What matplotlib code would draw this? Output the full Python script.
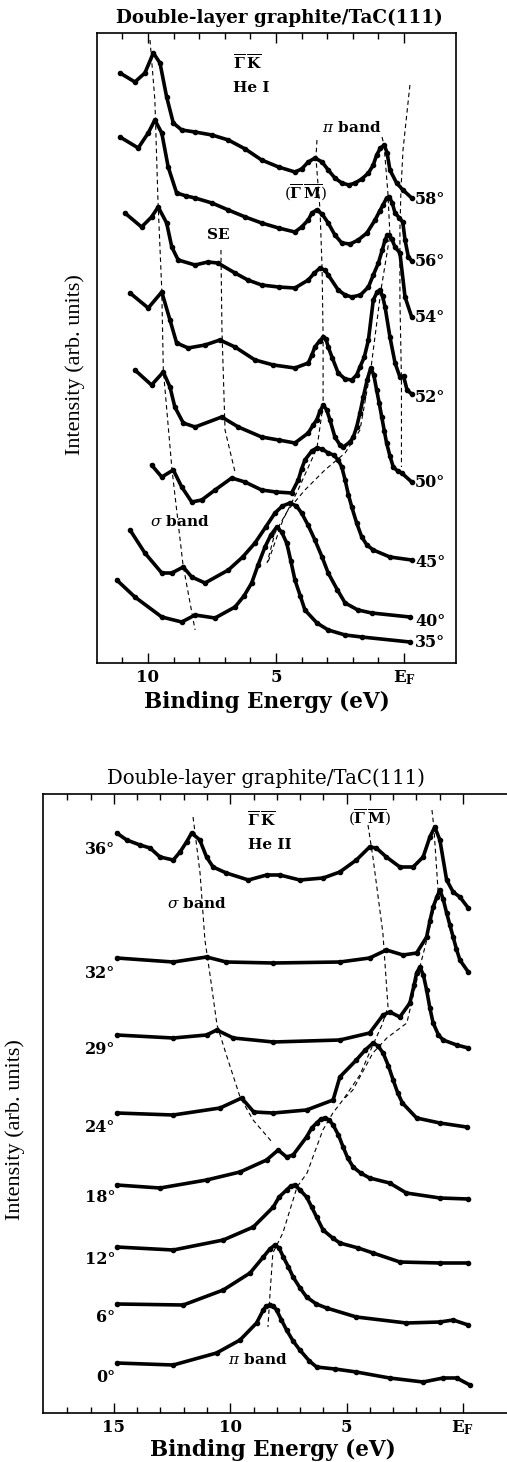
import matplotlib
matplotlib.use("Agg")
import matplotlib.pyplot as plt

plt.rcParams["font.family"] = "DejaVu Serif"
plt.rcParams["mathtext.fontset"] = "dejavuserif"

W, H = 507, 1462

# ---- He I spectra (top panel): binding energy (eV), stacked intensity (arb. units)
E58 = [11.09, 10.51, 10.12, 9.79, 9.53, 9.27, 9.01, 8.68, 8.16, 7.5, 6.86, 6.2, 5.56, 4.9,
       4.26, 4.0, 3.74, 3.48, 3.2, 2.96, 2.7, 2.43, 2.15, 1.91, 1.65, 1.39, 1.2, 1.07,
       0.92, 0.77, 0.66, 0.55, 0.29, 0.04, -0.30]
I58 = [590, 581, 590, 610, 600, 566, 540, 533, 531, 528, 523, 514, 503, 496,
       491, 494, 501, 505, 501, 493, 485, 480, 478, 480, 484, 490, 498, 508,
       515, 518, 510, 493, 480, 473, 465]
E56 = [11.09, 10.38, 9.99, 9.73, 9.46, 9.21, 8.88, 8.5, 8.16, 7.5, 6.86, 6.2, 5.56, 4.9,
       4.26, 4.0, 3.74, 3.6, 3.41, 3.2, 2.96, 2.7, 2.43, 2.1, 1.79, 1.45, 1.13, 0.95,
       0.82, 0.68, 0.57, 0.46, 0.35, 0.18, 0.05, -0.04, -0.17, -0.30]
I56 = [526, 515, 530, 543, 530, 496, 470, 467, 465, 460, 453, 446, 440, 435,
       431, 436, 443, 450, 453, 449, 440, 428, 420, 419, 423, 430, 443, 452,
       458, 465, 466, 460, 450, 445, 441, 423, 406, 402]
E54 = [10.90, 10.25, 9.86, 9.60, 9.27, 9.07, 8.82, 8.16, 7.66, 7.27, 6.60, 6.1, 5.56, 4.9,
       4.26, 3.74, 3.5, 3.28, 3.1, 2.96, 2.57, 2.3, 2.04, 1.7, 1.39, 1.2, 1.00, 0.85,
       0.74, 0.65, 0.57, 0.48, 0.35, 0.16, -0.04, -0.30]
I54 = [450, 436, 446, 456, 440, 416, 403, 398, 401, 400, 390, 383, 378, 376,
       375, 383, 390, 395, 393, 388, 373, 368, 366, 368, 376, 388, 400, 413,
       423, 428, 428, 424, 416, 410, 366, 346]
E52 = [10.70, 9.99, 9.46, 9.14, 8.88, 8.43, 7.77, 7.19, 6.60, 5.82, 5.1, 4.26, 3.74, 3.6,
       3.48, 3.3, 3.15, 3.05, 2.96, 2.8, 2.57, 2.3, 2.04, 1.85, 1.72, 1.55, 1.39, 1.20,
       1.05, 0.94, 0.84, 0.74, 0.55, 0.35, 0.16, 0.02, -0.12, -0.30]
I52 = [370, 355, 371, 343, 320, 315, 318, 323, 316, 303, 298, 295, 300, 308,
       316, 322, 326, 324, 316, 305, 290, 284, 283, 288, 296, 306, 323, 363,
       371, 373, 367, 356, 326, 300, 286, 287, 273, 269]
E50 = [10.51, 9.86, 9.40, 9.14, 8.95, 8.62, 8.16, 7.12, 6.47, 5.56, 4.9, 4.26, 3.74, 3.55,
       3.41, 3.28, 3.15, 3.02, 2.89, 2.70, 2.5, 2.37, 2.11, 1.98, 1.85, 1.72, 1.59, 1.44,
       1.30, 1.18, 1.07, 0.97, 0.87, 0.77, 0.68, 0.55, 0.42, 0.25, 0.09, -0.30]
I50 = [293, 278, 291, 276, 256, 240, 236, 246, 236, 226, 223, 220, 230, 238,
       243, 252, 258, 253, 243, 226, 218, 216, 221, 226, 236, 250, 266, 283,
       295, 288, 273, 260, 246, 232, 220, 207, 196, 192, 190, 181]
E45 = [9.86, 9.46, 9.01, 8.68, 8.29, 7.90, 7.38, 6.73, 6.21, 5.56, 5.0, 4.39, 4.13, 4.0,
       3.87, 3.6, 3.41, 3.2, 2.96, 2.75, 2.57, 2.43, 2.30, 2.17, 2.04, 1.85, 1.65, 1.45,
       1.20, 0.55, -0.30]
I45 = [198, 186, 193, 176, 161, 163, 173, 185, 181, 173, 171, 170, 183, 194,
       203, 212, 215, 214, 210, 208, 203, 196, 183, 168, 156, 140, 126, 118,
       113, 106, 103]
E40 = [10.70, 10.12, 9.46, 9.07, 8.62, 8.29, 7.77, 6.86, 6.3, 5.82, 5.4, 5.04, 4.75, 4.45,
       4.2, 4.00, 3.75, 3.48, 3.2, 2.96, 2.6, 2.30, 1.8, 1.26, -0.23]
I40 = [133, 110, 90, 90, 96, 86, 80, 93, 106, 120, 136, 150, 157, 160,
       157, 150, 138, 123, 106, 90, 73, 60, 53, 50, 46]
E35 = [11.22, 10.51, 9.46, 8.68, 8.16, 7.38, 6.60, 6.25, 5.95, 5.7, 5.43, 5.2, 4.97, 4.78,
       4.58, 4.42, 4.26, 4.05, 3.87, 3.4, 2.96, 2.3, 1.65, -0.23]
I35 = [83, 66, 46, 41, 48, 45, 56, 67, 80, 98, 116, 128, 136, 131,
       120, 102, 83, 67, 53, 40, 33, 28, 26, 21]

HE1_ANGLES = ["58°", "56°", "54°", "52°", "50°", "45°", "40°", "35°"]
HE1_LABEL_I = [463, 401, 345, 266, 180, 100, 41, 20]

# dispersion guides, He I
SIG1_E = [9.92, 9.73, 9.61, 9.46, 9.40, 9.06, 8.63, 8.16]
SIG1_I = [623, 563, 463, 373, 293, 193, 98, 33]
SE1_E = [7.15, 7.11, 6.99, 6.60]
SE1_I = [413, 333, 233, 191]
GM1_E = [3.40, 3.44, 3.28, 3.20, 3.16, 3.16, 3.40, 4.14, 4.73, 5.31]
GM1_I = [523, 505, 453, 395, 326, 258, 215, 173, 143, 101]
K1_E = [0.86, 0.78, 0.63, 0.55, 0.90, 1.29, 1.72, 2.30, 3.09, 3.87, 4.53, 5.04, 5.35]
K1_I = [526, 518, 470, 428, 373, 295, 233, 210, 193, 173, 153, 130, 100]
EF1_E = [-0.23, 0.04, 0.12, 0.16, 0.16, 0.10, 0.10]
EF1_I = [578, 513, 473, 433, 363, 283, 196]

# ---- He II spectra (bottom panel)
E36 = [14.88, 14.45, 13.88, 13.45, 13.02, 12.45, 12.16, 11.88, 11.66, 11.31, 11.02, 10.74,
       10.17, 9.22, 8.44, 7.87, 7.01, 6.01, 5.29, 4.58, 4.01, 3.72, 3.29, 2.71, 2.14, 1.71,
       1.42, 1.21, 0.99, 0.70, 0.42, 0.13, -0.23]
I36 = [580, 573, 568, 565, 556, 553, 561, 571, 580, 573, 556, 546,
       540, 533, 538, 538, 533, 535, 541, 553, 566, 565, 556, 546, 546, 556,
       576, 586, 573, 533, 521, 516, 505]
E32 = [14.88, 12.45, 11.02, 10.17, 8.15, 5.29, 4.01, 3.29, 2.57, 1.99, 1.56, 1.42, 1.28,
       1.12, 0.99, 0.85, 0.70, 0.56, 0.42, 0.28, 0.13, -0.23]
I32 = [455, 451, 456, 451, 450, 451, 455, 463, 458, 460, 476, 492, 506,
       516, 523, 514, 500, 488, 476, 464, 453, 441]
E29 = [14.88, 12.45, 11.02, 10.58, 9.87, 8.15, 5.29, 4.01, 3.43, 3.14, 2.71, 2.28, 2.1,
       1.99, 1.85, 1.70, 1.56, 1.42, 1.28, 1.05, 0.85, 0.27, -0.23]
I29 = [378, 375, 378, 383, 375, 371, 373, 380, 398, 401, 396, 410, 428,
       440, 446, 438, 423, 405, 390, 378, 373, 368, 365]
E24 = [14.88, 12.45, 10.44, 9.51, 8.99, 8.15, 6.72, 5.58, 5.29, 4.58, 4.2, 3.86, 3.65,
       3.43, 3.2, 3.00, 2.8, 2.60, 1.99, 0.99, -0.16]
I24 = [300, 298, 305, 315, 301, 300, 303, 313, 336, 353, 363, 370, 367,
       360, 347, 333, 320, 310, 295, 290, 286]
E18 = [14.88, 13.02, 11.02, 9.58, 8.44, 7.94, 7.58, 7.30, 6.72, 6.5, 6.29, 6.1, 5.93,
       5.75, 5.58, 5.35, 5.15, 4.95, 4.72, 4.4, 4.01, 3.15, 2.43, 0.99, -0.23]
I18 = [228, 225, 233, 241, 253, 263, 256, 258, 276, 285, 290, 294, 295,
       293, 288, 278, 266, 255, 246, 240, 235, 230, 220, 215, 214]
E12 = [14.88, 12.45, 10.30, 9.01, 8.15, 7.9, 7.58, 7.4, 7.22, 7.0, 6.72, 6.5, 6.29,
       6.01, 5.6, 5.29, 4.5, 3.86, 2.71, 0.99, -0.23]
I12 = [166, 163, 173, 186, 206, 216, 223, 227, 228, 223, 216, 206, 196,
       183, 175, 170, 165, 160, 151, 150, 150]
E6 = [14.88, 12.02, 10.30, 9.15, 8.58, 8.3, 8.08, 7.9, 7.72, 7.5, 7.30, 7.0, 6.72,
      6.3, 5.86, 4.58, 2.43, 0.99, 0.42, -0.23]
I6 = [109, 108, 123, 140, 156, 164, 168, 165, 156, 146, 136, 125, 116,
      109, 105, 96, 90, 91, 93, 88]
E0 = [14.88, 12.45, 10.59, 9.58, 8.87, 8.58, 8.45, 8.30, 8.15, 8.01, 7.8, 7.58, 7.3,
      7.01, 6.6, 6.29, 5.5, 4.58, 3.15, 1.71, 0.85, 0.27, -0.30]
I0 = [50, 48, 60, 73, 90, 103, 107, 108, 107, 103, 93, 83, 72,
      63, 52, 46, 44, 41, 35, 31, 35, 35, 28]

HE2_ANGLES = ["36°", "32°", "29°", "24°", "18°", "12°", "6°", "0°"]
HE2_LABEL_I = [563, 440, 363, 286, 216, 153, 95, 35]

SIG2_E = [11.60, 11.30, 11.09, 10.87, 10.57, 10.14, 9.58, 9.02, 8.17]
SIG2_I = [596, 540, 473, 438, 388, 356, 316, 293, 270]
GM2_E = [4.08, 3.87, 3.44, 3.22, 3.48, 3.87, 4.43, 5.16, 5.59, 6.02, 6.70, 7.13, 7.74,
         8.17, 8.29, 8.38]
GM2_I = [588, 556, 480, 406, 388, 368, 338, 313, 300, 283, 240, 226, 180, 160, 120, 86]
K2_E = [1.33, 1.25, 1.07, 1.50, 1.85, 2.41, 3.27, 3.87, 4.73, 5.16]
K2_I = [603, 586, 523, 478, 446, 390, 375, 360, 323, 313]

EF_LABEL = r"$\mathbf{E}_\mathbf{F}$"
GK = r"$\overline{\mathbf{\Gamma}}\,\overline{\mathbf{K}}$"
GM = r"$(\overline{\mathbf{\Gamma}}\,\overline{\mathbf{M}})$"


def fx(x):
    return x / W


def fy(y):
    return 1 - y / H


def draw_curves(ax, curves):
    for e, i in curves:
        ax.plot(e, i, color="black", lw=2.6, marker="o", ms=3.0,
                solid_capstyle="round", solid_joinstyle="round")


def draw_guides(ax, guides):
    for e, i in guides:
        ax.plot(e, i, color="black", lw=0.8, ls=(0, (4, 3)))


def style_axis(ax, major, labels, n_minor):
    ax.set_xticks(major)
    ax.set_xticklabels(labels, fontsize=12, fontweight="bold")
    ax.set_xticks(range(0, n_minor + 1), minor=True)
    ax.set_yticks([])
    ax.tick_params(which="both", direction="in", top=True, bottom=True, width=1.0)
    ax.tick_params(which="major", length=7, pad=4)
    ax.tick_params(which="minor", length=4)
    for s in ax.spines.values():
        s.set_linewidth(1.2)


fig = plt.figure(figsize=(W / 100, H / 100), dpi=100)

# ---- top panel (He I)
ax1 = fig.add_axes([fx(97), fy(663), fx(456) - fx(97), fy(33) - fy(663)])
draw_curves(ax1, [(E58, I58), (E56, I56), (E54, I54), (E52, I52),
                  (E50, I50), (E45, I45), (E40, I40), (E35, I35)])
draw_guides(ax1, [(SIG1_E, SIG1_I), (SE1_E, SE1_I), (GM1_E, GM1_I),
                  (K1_E, K1_I), (EF1_E, EF1_I)])
ax1.set_xlim(11.99, -2.03)
ax1.set_ylim(0, 630)
style_axis(ax1, [10, 5, 0], ["10", "5", EF_LABEL], 11)
for lab, yi in zip(HE1_ANGLES, HE1_LABEL_I):
    ax1.text(-0.43, yi, lab, fontsize=11.5, fontweight="bold", va="center", ha="left")
ax1.text(6.68, 600, GK, fontsize=11, va="center", ha="left")
ax1.text(6.68, 575, "He I", fontsize=11, fontweight="bold", va="center", ha="left")
ax1.text(3.20, 535, r"$\pi$ band", fontsize=11, fontweight="bold", va="center", ha="left")
ax1.text(3.87, 470, GM, fontsize=11, va="center", ha="center")
ax1.text(7.27, 428, "SE", fontsize=11, fontweight="bold", va="center", ha="center")
ax1.text(9.92, 141, r"$\sigma$ band", fontsize=11, fontweight="bold", va="center", ha="left")

fig.text(fx(279), fy(18), "Double-layer graphite/TaC(111)", fontsize=13.2,
         fontweight="bold", ha="center", va="center")
fig.text(fx(267), fy(702), "Binding Energy (eV)", fontsize=15.5, fontweight="bold",
         ha="center", va="center")
fig.text(fx(75), fy(365), "Intensity (arb. units)", fontsize=16, family="Liberation Serif",
         rotation=90, ha="center", va="center")

# ---- bottom panel (He II)
ax2 = fig.add_axes([fx(43), fy(1413), fx(512) - fx(43), fy(794) - fy(1413)])
draw_curves(ax2, [(E36, I36), (E32, I32), (E29, I29), (E24, I24),
                  (E18, I18), (E12, I12), (E6, I6), (E0, I0)])
draw_guides(ax2, [(SIG2_E, SIG2_I), (GM2_E, GM2_I), (K2_E, K2_I)])
ax2.set_xlim(18.05, -2.11)
ax2.set_ylim(0, 619)
style_axis(ax2, [15, 10, 5, 0], ["15", "10", "5", EF_LABEL], 17)
for lab, yi in zip(HE2_ANGLES, HE2_LABEL_I):
    ax2.text(14.95, yi, lab, fontsize=11.5, fontweight="bold", va="center", ha="right")
ax2.text(9.28, 593, GK, fontsize=11, va="center", ha="left")
ax2.text(9.24, 568, "He II", fontsize=11, fontweight="bold", va="center", ha="left")
ax2.text(4.04, 595, GM, fontsize=11, va="center", ha="center")
ax2.text(12.72, 510, r"$\sigma$ band", fontsize=11, fontweight="bold", va="center", ha="left")
ax2.text(10.10, 53, r"$\pi$ band", fontsize=11, fontweight="bold", va="center", ha="left")

fig.text(fx(266), fy(778), "Double-layer graphite/TaC(111)", fontsize=14.2,
         ha="center", va="center")
fig.text(fx(273), fy(1450), "Binding Energy (eV)", fontsize=15.5, fontweight="bold",
         ha="center", va="center")
fig.text(fx(15), fy(1130), "Intensity (arb. units)", fontsize=16, family="Liberation Serif",
         rotation=90, ha="center", va="center")

fig.savefig("out.png", dpi=100)
